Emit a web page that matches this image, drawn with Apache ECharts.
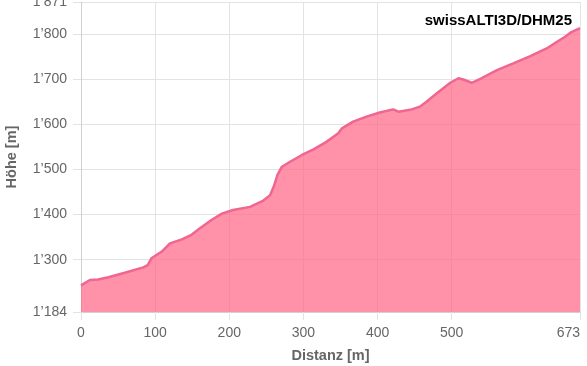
<!DOCTYPE html>
<html>
<head>
<meta charset="utf-8">
<script src="https://cdn.jsdelivr.net/npm/echarts@6/dist/echarts.min.js"></script>
<style>
html,body{margin:0;padding:0;background:#fff;}
#chart{width:587px;height:366px;}
</style>
</head>
<body>
<div id="chart"></div>
<script>
const distances = [0,12,23,37,59,84,90,95,109,120,136,149,160,176,190,205,228,246,255,260,265,271,282,298,313,331,347,352,367,385,403,421,428,444,457,466,480,498,509,518,527,540,561,583,606,628,642,653,660,673];
const heights = [1243,1255,1256,1261,1271,1283,1288,1303,1318,1336,1345,1355,1369,1388,1402,1410,1417,1431,1443,1462,1488,1506,1517,1532,1544,1561,1580,1591,1606,1617,1626,1633,1628,1632,1639,1650,1669,1692,1702,1698,1692,1702,1720,1735,1751,1768,1783,1794,1803,1813];
const xTicks = [0,100,200,300,400,500,673];
const yTicks = [1184,1300,1400,1500,1600,1700,1800,1871];
const sourceLabel = 'swissALTI3D/DHM25';

function fmt(v){
  return String(v).replace(/\B(?=(\d{3})+(?!\d))/g, '\u2019');
}

const chart = echarts.init(document.getElementById('chart'));
const labelFont = {fontFamily:'Liberation Sans, Arial, sans-serif', fontSize:14, color:'#666'};
chart.setOption({
  animation:false,
  grid:{left:81, right:7, top:2, bottom:54, containLabel:false, outerBoundsMode:'none'},
  title:{text:sourceLabel, right:10, top:8, textStyle:{fontFamily:'Liberation Sans, Arial, sans-serif', fontSize:15, fontWeight:'bold', color:'#000'}},
  xAxis:{
    type:'value', min:0, max:673,
    name:'Distanz [m]', nameLocation:'middle', nameGap:36,
    nameTextStyle:{fontFamily:'Liberation Sans, Arial, sans-serif', fontSize:14.5, fontWeight:'bold', color:'#666'},
    axisLine:{show:true, lineStyle:{color:'#d0d0d0', width:1}},
    axisTick:{show:true, length:8, customValues:xTicks, lineStyle:{color:'#e3e3e3'}},
    axisLabel:Object.assign({customValues:xTicks, margin:14, alignMaxLabel:'right', formatter:fmt}, labelFont),
    splitLine:{show:true, lineStyle:{color:'#e3e3e3', width:1}}
  },
  yAxis:{
    type:'value', min:1184, max:1871,
    name:'Höhe [m]', nameLocation:'middle', nameGap:62, nameRotate:90,
    nameTextStyle:{fontFamily:'Liberation Sans, Arial, sans-serif', fontSize:14.5, fontWeight:'bold', color:'#666'},
    axisLine:{show:true, lineStyle:{color:'#d0d0d0', width:1}},
    axisTick:{show:true, length:8, customValues:yTicks, lineStyle:{color:'#e3e3e3'}},
    axisLabel:Object.assign({customValues:yTicks, margin:14, formatter:fmt}, labelFont),
    splitLine:{show:true, lineStyle:{color:'#e3e3e3', width:1}}
  },
  series:[{
    type:'line',
    data:distances.map((d,i)=>[d, heights[i]]),
    showSymbol:false,
    lineStyle:{color:'#ef6690', width:2.5},
    areaStyle:{color:'rgba(255,99,132,0.7)', opacity:1},
    z:3
  }]
});
</script>
</body>
</html>
